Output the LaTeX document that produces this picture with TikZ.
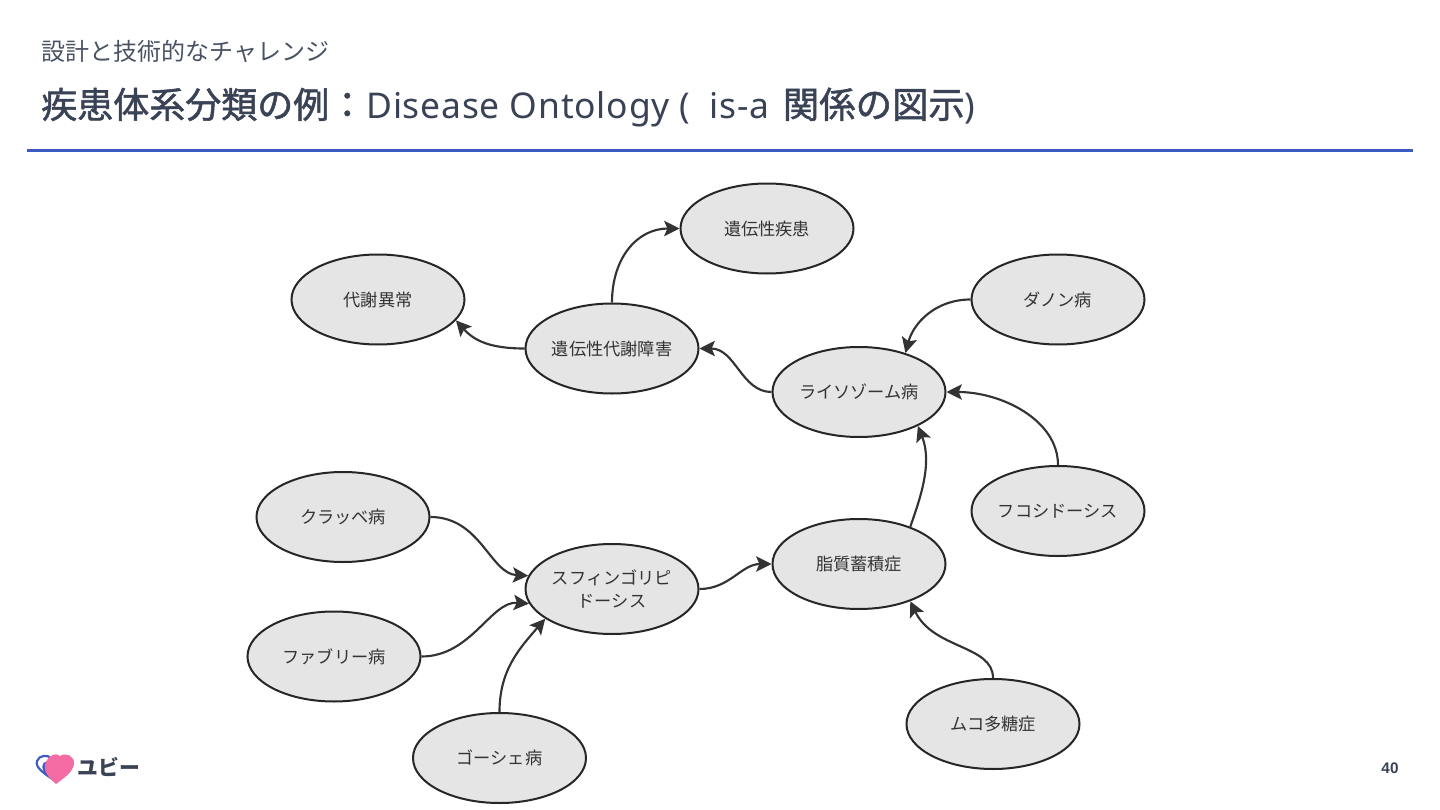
\documentclass[tikz,border=0pt]{standalone}
\usepackage{fontspec}
\setmainfont{Noto Sans CJK JP}
\newfontfamily\jpf{Noto Sans CJK JP}
\newfontfamily\jpm[FakeBold=1.4]{Noto Sans CJK JP}
\newfontfamily\latf[LetterSpace=2.2]{Noto Sans}
\newfontfamily\numf{Liberation Sans}
\definecolor{titlec}{HTML}{3A4356}
\definecolor{subc}{HTML}{4A5364}
\definecolor{rulec}{HTML}{3B5CC4}
\definecolor{nodefill}{HTML}{E5E5E5}
\definecolor{nodeline}{HTML}{262626}
\definecolor{edgec}{HTML}{333333}
\definecolor{nodetxt}{HTML}{333333}
\definecolor{heart}{HTML}{F56CA5}
\definecolor{logoblue}{HTML}{3D5BC0}
\usetikzlibrary{shapes.geometric,arrows.meta}
\tikzset{
  dis/.style={ellipse,draw=nodeline,fill=nodefill,line width=1.5pt,minimum width=173*0.75pt,minimum height=90*0.75pt,inner sep=0pt,align=center,text=nodetxt,font=\jpf\fontsize{12.9pt}{17.5pt}\selectfont},
  rel/.style={draw=edgec,line width=1.6pt,-{Stealth[length=11.5pt,width=11.5pt,inset=2.4pt]}},
  txt/.style={inner sep=0pt,anchor=base west}
}
\begin{document}
\begin{tikzpicture}[x=0.75pt,y=-0.75pt]
\useasboundingbox (0,0) rectangle (1440,810);
\fill[white] (0,0) rectangle (1440,810);
\node[txt,text=subc,font=\jpf\fontsize{18pt}{22pt}\selectfont] (sub) at (41,60.3) {設計と技術的なチャレンジ};
\node[txt,text=titlec,font=\fontsize{27pt}{32pt}\selectfont] (ttl) at (41,118) {\jpm 疾患体系分類の例：\hspace{0.8pt}\latf\fontsize{26.6pt}{32pt}\selectfont Disease Ontology (\hspace{7pt} is-a \hspace{2.5pt}\jpm\fontsize{27.3pt}{32pt}\selectfont 関係の図示\latf\fontsize{26.6pt}{32pt}\selectfont )};
\coordinate (rl) at (27,150); \coordinate (rr) at (1413,150);
\draw[rulec,line width=2.25pt] (rl) -- (rr);
\node[dis] (a) at (767,228.5) {遺伝性疾患};
\node[dis] (b) at (378,299.5) {代謝異常};
\node[dis] (c) at (612,348.5) {遺伝性代謝障害};
\node[dis] (d) at (1058,299.5) {ダノン病};
\node[dis] (e) at (859,392) {ライソゾーム病};
\node[dis] (f) at (1058,511) {フコシドーシス};
\node[dis] (g) at (859,564) {脂質蓄積症};
\node[dis] (h) at (343,517) {クラッベ病};
\node[dis] (i) at (612,589) {スフィンゴリピ\\ドーシス};
\node[dis] (j) at (334,656.5) {ファブリー病};
\node[dis] (k) at (499.5,758) {ゴーシェ病};
\node[dis] (l) at (993,724) {ムコ多糖症};
\draw[rel] (c.north) .. controls +(0,-45) and +(-42,0) .. (a.west);
\draw[rel] (c.west) .. controls +(-35,0) and +(18,20) .. (b.-15);
\draw[rel] (e.west) .. controls +(-30,0) and +(36,0) .. (c.east);
\draw[rel] (d.west) .. controls +(-35,0) and +(8,-30) .. (e.40);
\draw[rel] (f.north) .. controls +(0,-45) and +(55,0) .. (e.east);
\draw[rel] (g.36) .. controls +(9,-26) and +(15,38) .. (e.-30);
\draw[rel] (l.north) .. controls +(0,-33) and +(23,48) .. (g.-36);
\draw[rel] (i.east) .. controls +(30,0) and +(-30,0) .. (g.west);
\draw[rel] (h.east) .. controls +(50,0) and +(-38,-2) .. (i.171);
\draw[rel] (j.east) .. controls +(50,0) and +(-38,-3) .. (i.190);
\draw[rel] (k.north) .. controls +(0,-42) and +(-26,30) .. (i.204);
% logo
\draw[logoblue,line width=1.6pt] (55,781) .. controls (44,773) and (35,768) .. (37,761) .. controls (39,755) and (48,754) .. (52,759);
\fill[logoblue] (50,778) .. controls (43,772) and (41,768) .. (43,764) .. controls (45,761) and (48,761) .. (51,763) -- cycle;
\fill[heart] (56,784) .. controls (48,777) and (42,770) .. (46,762) .. controls (49,755) and (56,752) .. (60,756) .. controls (66,752) and (75,756) .. (74,764) .. controls (73,772) and (64,778) .. (56,784) -- cycle;
\node[inner sep=0pt,text=titlec,font=\jpf\bfseries\fontsize{15.6pt}{20pt}\selectfont] (logo) at (109,767) {ユビー};
\node[inner sep=0pt,text=titlec,font=\numf\bfseries\fontsize{11.5pt}{14pt}\selectfont] (num) at (1390,768) {40};
\end{tikzpicture}
\end{document}
